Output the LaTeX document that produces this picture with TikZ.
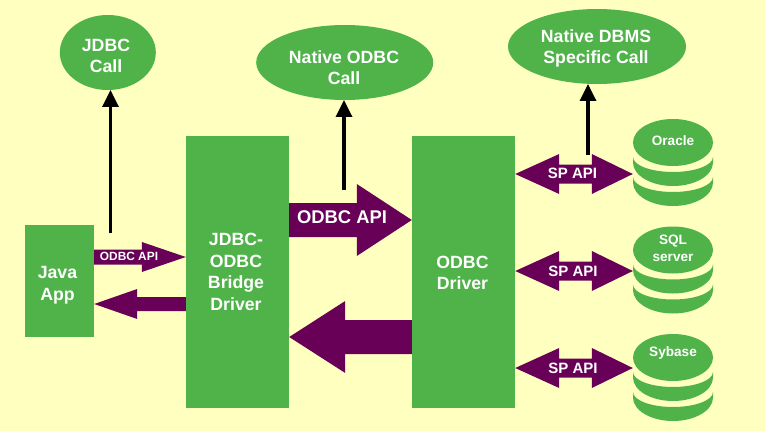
\documentclass[tikz,border=0pt]{standalone}
\usepackage{fontspec}
\setmainfont{Liberation Sans}
\usetikzlibrary{shapes.geometric,calc,arrows.meta}
\definecolor{bgyellow}{HTML}{FFFFBF}
\definecolor{boxgreen}{HTML}{4FB349}
\definecolor{apipurple}{HTML}{690057}
\newcommand{\fsz}[2]{\fontsize{#1}{#2}\selectfont\bfseries}
\tikzset{
  box/.style={fill=boxgreen,inner sep=0pt},
  bubble/.style={ellipse,fill=boxgreen,inner sep=0pt},
  label/.style={inner sep=0pt,text=white,align=center},
  biglabel/.style={label,font=\fsz{17.7}{21.5}},
  dblabel/.style={label,font=\fsz{13.6}{16.5}},
  splabel/.style={label,font=\fsz{15}{18}},
  callarrow/.style={line width=3.4pt,black,-{Triangle[length=17pt,width=16pt]}},
  band/.style={fill=boxgreen}
}
% block arrow: from #1 to tip #2, head length #3, half shaft #4, half head #5
\newcommand{\blockarrow}[5]{%
  \fill[apipurple] ($(#1)+(0,#4)$) -- ($(#2)!#3pt!(#1)+(0,#4)$) -- ($(#2)!#3pt!(#1)+(0,#5)$) -- (#2)
    -- ($(#2)!#3pt!(#1)+(0,-#5)$) -- ($(#2)!#3pt!(#1)+(0,-#4)$) -- ($(#1)+(0,-#4)$) -- cycle;}
\newcommand{\doublearrow}[2]{%
  \fill[apipurple] (#1) -- ($(#1)!44pt!(#2)+(0,-20)$) -- ($(#1)!44pt!(#2)+(0,-9.5)$)
    -- ($(#2)!41pt!(#1)+(0,-9.5)$) -- ($(#2)!41pt!(#1)+(0,-20)$) -- (#2)
    -- ($(#2)!41pt!(#1)+(0,20)$) -- ($(#2)!41pt!(#1)+(0,9.5)$)
    -- ($(#1)!44pt!(#2)+(0,9.5)$) -- ($(#1)!44pt!(#2)+(0,20)$) -- cycle;}
% database stack with its top centred at y=#2
\newcommand{\database}[2]{%
  \begin{scope}[shift={(673,#2)}]
    \fill[band] (-40,14.5) -- (-40,20) arc[start angle=180,end angle=0,x radius=40,y radius=23.5] -- (40,14.5)
       arc[start angle=0,end angle=180,x radius=40,y radius=15] -- cycle;
    \fill[band] (-40,34.5) -- (-40,40) arc[start angle=180,end angle=0,x radius=40,y radius=23.5] -- (40,34.5)
       arc[start angle=0,end angle=180,x radius=40,y radius=15] -- cycle;
    \node[bubble,minimum width=80pt,minimum height=47pt] (#1) at (0,0) {};
  \end{scope}}
\begin{document}
\begin{tikzpicture}[x=1pt,y=-1pt]
\useasboundingbox (0,0) rectangle (781,433);
\fill[bgyellow] (0,0) rectangle (765,431);

\node[box,minimum width=69.5pt,minimum height=112.5pt] (java) at (59.25,280.75) {};
\node[biglabel] (javat) at (57.5,285) {Java\\App};
\node[box,minimum width=103pt,minimum height=272pt] (bridge) at (237.5,272) {};
\node[biglabel] (bridget) at (236,272) {JDBC-\\ODBC\\Bridge\\Driver};
\node[box,minimum width=103pt,minimum height=272pt] (driver) at (463.5,272) {};
\node[biglabel] (drivert) at (462.5,273) {ODBC\\Driver};

\node[bubble,minimum width=96pt,minimum height=75pt] (jdbccall) at (107.8,52.5) {};
\node[bubble,minimum width=177pt,minimum height=75pt] (odbccall) at (344.7,62.5) {};
\node[bubble,minimum width=178pt,minimum height=75pt] (dbmscall) at (597,46.5) {};
\node[biglabel] (jdbct) at (106,56) {JDBC\\Call};
\node[biglabel] (odbct) at (344,67.5) {Native ODBC\\Call};
\node[biglabel] (dbmst) at (596,48.5) {Native DBMS\\Specific Call};

\database{oracle}{142.5}
\database{sql}{250}
\database{sybase}{357.5}
\node[dblabel] (oraclet) at ($(oracle.center)+(0,-1.5)$) {Oracle};
\node[dblabel] (sqlt) at ($(sql.center)+(0,-1.5)$) {SQL\\server};
\node[dblabel] (sybaset) at ($(sybase.center)+(0,-4.5)$) {Sybase};

% block arrows
\coordinate (a1s) at (java.east |- 0,257);
\coordinate (a1e) at (bridge.west |- 0,257);
\blockarrow{a1s}{a1e}{44}{7.5}{15}
\coordinate (a2s) at (bridge.west |- 0,304);
\coordinate (a2e) at (java.east |- 0,304);
\blockarrow{a2s}{a2e}{43}{7}{15}
\coordinate (a3s) at (bridge.east |- 0,220);
\coordinate (a3e) at (driver.west |- 0,220);
\blockarrow{a3s}{a3e}{55}{17}{36}
\coordinate (a4s) at (driver.west |- 0,337);
\coordinate (a4e) at (bridge.east |- 0,337);
\blockarrow{a4s}{a4e}{56}{17}{36}
\coordinate (d1l) at (driver.east |- 0,174);
\coordinate (d1r) at (oracle.west |- 0,174);
\doublearrow{d1l}{d1r}
\coordinate (d2l) at (driver.east |- 0,271);
\coordinate (d2r) at (sql.west |- 0,271);
\doublearrow{d2l}{d2r}
\coordinate (d3l) at (driver.east |- 0,368);
\coordinate (d3r) at (sybase.west |- 0,368);
\doublearrow{d3l}{d3r}

\node[label,font=\fsz{11.9}{14}] (t1) at (129,256) {ODBC API};
\node[label,font=\fsz{18.4}{22}] (t2) at (342,217) {ODBC API};
\node[splabel] (s1) at (572.5,173.5) {SP API};
\node[splabel] (s2) at (573,271) {SP API};
\node[splabel] (s3) at (573,368) {SP API};

% call arrows
\coordinate (c1s) at (110.5,233);
\coordinate (c1e) at (110.5,90);
\draw[callarrow] (c1s) -- (c1e);
\coordinate (c2s) at (344,190);
\coordinate (c2e) at (344,100);
\draw[callarrow] (c2s) -- (c2e);
\coordinate (c3s) at (588,155);
\coordinate (c3e) at (588,84);
\draw[callarrow] (c3s) -- (c3e);
\end{tikzpicture}
\end{document}
